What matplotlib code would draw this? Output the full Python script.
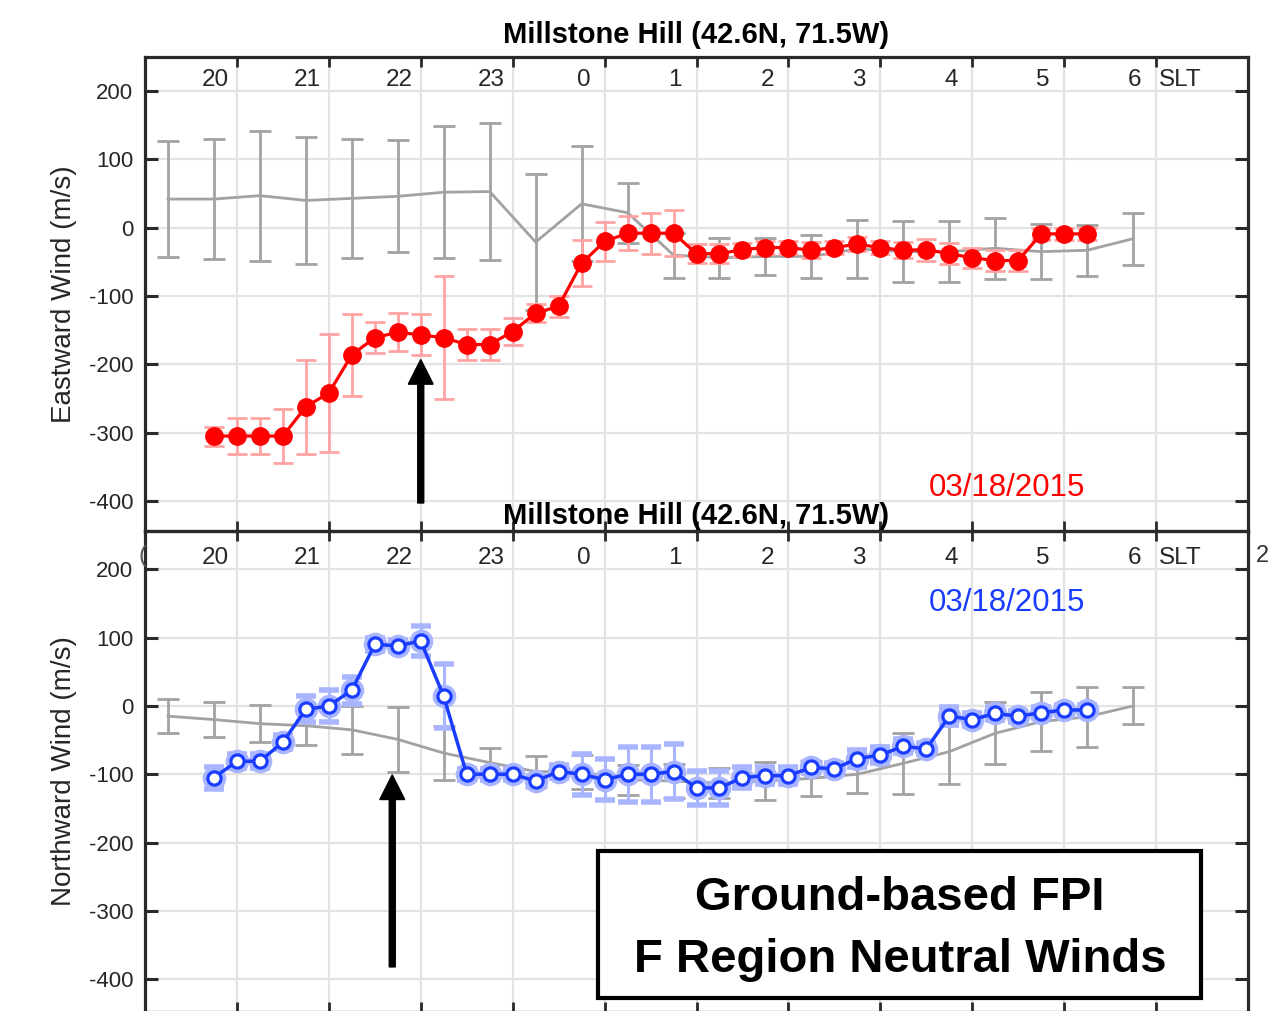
import matplotlib
matplotlib.use('Agg')
import matplotlib.pyplot as plt
from matplotlib import font_manager
from matplotlib.patches import Rectangle

names = {f.name for f in font_manager.fontManager.ttflist}
SANS = 'Liberation Sans' if 'Liberation Sans' in names else 'DejaVu Sans'
plt.rcParams['font.family'] = [SANS, 'DejaVu Sans']

# ---------------- data ----------------
hour_ticks = [20, 21, 22, 23, 24, 25, 26, 27, 28, 29, 30]
hour_labels = ['20', '21', '22', '23', '0', '1', '2', '3', '4', '5', '6']
ytick_vals = [-400, -300, -200, -100, 0, 100, 200]
ytick_labels = ['-400', '-300', '-200', '-100', '0', '100', '200']

# FPI measurement times (continuous hours, SLT)
t_fpi = [19.75, 20.0, 20.25, 20.5, 20.75, 21.0, 21.25, 21.5, 21.75, 22.0,
         22.25, 22.5, 22.75, 23.0, 23.25, 23.5, 23.75, 24.0, 24.25, 24.5,
         24.75, 25.0, 25.25, 25.5, 25.75, 26.0, 26.25, 26.5, 26.75, 27.0,
         27.25, 27.5, 27.75, 28.0, 28.25, 28.5, 28.75, 29.0, 29.25]
# reference (quiet-time) times
t_ref = [19.25, 19.75, 20.25, 20.75, 21.25, 21.75, 22.25, 22.75, 23.25, 23.75,
         24.25, 24.75, 25.25, 25.75, 26.25, 26.75, 27.25, 27.75, 28.25, 28.75,
         29.25, 29.75]

east = [-305, -305, -305, -305, -262, -242, -186, -161, -153, -157,
        -161, -171, -171, -152, -125, -115, -52, -20, -8, -8,
        -8, -38, -38, -32, -29, -29, -33, -29, -24, -29,
        -33, -32, -38, -44, -48, -48, -9, -9, -9]
east_err = [14, 26, 26, 40, 69, 87, 60, 23, 28, 30,
            90, 23, 23, 20, 13, 15, 34, 28, 25, 30,
            34, 14, 14, 10, 10, 10, 12, 10, 10, 10,
            12, 16, 15, 15, 15, 15, 9, 9, 9]
east_ref = [42, 42, 47, 40, 43, 46, 52, 53, -21, 35,
            22, -40, -44, -42, -42, -31, -35, -35, -30, -35,
            -33, -16]
east_ref_err = [85, 88, 95, 93, 87, 82, 97, 100, 100, 84,
                44, 33, 29, 27, 32, 43, 45, 45, 45, 40,
                37, 38]

north = [-105, -81, -81, -53, -5, 0, 23, 90, 88, 95,
         14, -100, -100, -100, -110, -96, -100, -108, -100, -100,
         -96, -120, -120, -105, -102, -102, -90, -92, -77, -72,
         -59, -63, -15, -20, -11, -15, -10, -6, -6]
north_err = [16, 10, 10, 10, 19, 23, 20, 9, 8, 22,
             47, 8, 8, 8, 8, 10, 30, 30, 40, 40,
             40, 25, 25, 15, 12, 13, 8, 8, 12, 12,
             10, 8, 13, 9, 10, 8, 8, 8, 8]
north_ref = [-15, -20, -26, -29, -35, -49, -69, -83, -96, -97,
             -108, -110, -113, -110, -106, -100, -84, -67, -40, -23,
             -16, 0]
north_ref_err = [25, 25, 27, 28, 35, 47, 40, 21, 23, 25,
                 22, 25, 22, 28, 26, 27, 45, 47, 45, 43,
                 44, 27]

title = 'Millstone Hill (42.6N, 71.5W)'
date_label = '03/18/2015'

# ---------------- figure ----------------
W, H = 1270, 1011
fig = plt.figure(figsize=(W / 100, H / 100), dpi=100)
fig.patch.set_facecolor('white')


def px_axes(left, top, right, bottom):
    return [left / W, 1 - bottom / H, (right - left) / W, (bottom - top) / H]


FRAME = '#2a2a2a'
TXT = '#262626'
GRID = '#e3e3e3'
GRAY = '#a2a2a2'
RED = '#ff0000'
RED_L = '#ffa3a3'
BLUE = '#1a3cff'
BLUE_L = '#a9b6ff'

ax_e = fig.add_axes(px_axes(145, 57, 1248, 531), zorder=1)
ax_n = fig.add_axes(px_axes(145, 531, 1248, 1012), zorder=2)
ax_n.set_facecolor('none')


def style(ax, ylim, label_pad):
    ax.set_xlim(19, 31)
    ax.set_ylim(*ylim)
    ax.set_yticks(ytick_vals, ytick_labels)
    ax.set_xticks(hour_ticks)
    ax.tick_params(axis='x', which='major', top=True, bottom=True, direction='in',
                   length=7, width=2, color=FRAME, labelbottom=False, labeltop=False)
    lab_pos = [h - 0.23 for h in hour_ticks] + [30.26]
    ax.set_xticks(lab_pos, hour_labels + ['SLT'], minor=True)
    ax.tick_params(axis='x', which='minor', top=False, bottom=False, direction='in',
                   length=0, labeltop=True, labelbottom=False, pad=label_pad,
                   labelsize=17.5, labelcolor=TXT)
    ax.tick_params(axis='y', which='major', left=True, right=True, direction='in',
                   length=9.5, width=2.2, color=FRAME, labelsize=16, labelcolor=TXT,
                   pad=8.5)
    ax.tick_params(axis='y', which='minor', left=False, right=False)
    ax.grid(True, which='major', color=GRID, lw=1.6)
    ax.set_axisbelow(True)
    for sp in ax.spines.values():
        sp.set_linewidth(2.3)
        sp.set_color(FRAME)


style(ax_e, (-444, 250), -24.8)
style(ax_n, (-448, 256), -27.7)

# ---- Eastward (top) ----
ax_e.errorbar(t_ref, east_ref, yerr=east_ref_err, color=GRAY, lw=2.0,
              elinewidth=2.0, capsize=8, capthick=2.0, zorder=2)
ax_e.errorbar(t_fpi, east, yerr=east_err, fmt='none', ecolor=RED_L,
              elinewidth=2.0, capsize=7.5, capthick=2.0, zorder=3)
ax_e.plot(t_fpi, east, '-o', color=RED, lw=2.3, ms=12.5, mfc=RED, mec=RED, zorder=4)
ax_e.set_ylabel('Eastward Wind (m/s)', fontsize=20, color=TXT, labelpad=8)
ax_e.set_title(title, fontsize=21, fontweight='bold', color='black', y=1.0, pad=10)
ax_e.text(28.38, -381, date_label, color=RED, fontsize=22.5, ha='center', va='center')
ax_e.arrow(22.0, -403, 0, 210, width=0.065, head_width=0.27, head_length=36,
           length_includes_head=True, color='black', zorder=6)

# ---- Northward (bottom) ----
ax_n.errorbar(t_ref, north_ref, yerr=north_ref_err, color=GRAY, lw=2.0,
              elinewidth=2.0, capsize=8, capthick=2.0, zorder=2)
ax_n.errorbar(t_fpi, north, yerr=north_err, fmt='o', color=BLUE_L, ms=13,
              mfc='none', mew=4, elinewidth=2.2, capsize=7.5, capthick=2.2, zorder=3)
ax_n.plot(t_fpi, north, '-o', color=BLUE, lw=2.5, ms=9.5, mfc='white',
          mec=BLUE, mew=2.3, zorder=4)
ax_n.set_ylabel('Northward Wind (m/s)', fontsize=20, color=TXT, labelpad=8)
ax_n.set_title(title, fontsize=21, fontweight='bold', color='black', y=1.0, pad=4.7)
ax_n.text(28.38, 151, date_label, color=BLUE, fontsize=22.5, ha='center', va='center')
ax_n.arrow(21.69, -382, 0, 281, width=0.065, head_width=0.27, head_length=36,
           length_includes_head=True, color='black', zorder=6)

# stray clipped glyphs visible at the panel junction
fig.text(143 / W, 1 - 556 / H, '(', fontsize=17, color='#555555', ha='center', va='center')
fig.text(1262 / W, 1 - 556 / H, '2', fontsize=17, color='#333333', ha='center', va='center')

# annotation box
fig.patches.append(Rectangle((598 / W, 1 - 998 / H), (1201 - 598) / W, (998 - 851) / H,
                             transform=fig.transFigure, fill=True, facecolor='white',
                             edgecolor='black', lw=3, zorder=10))
fig.text(900 / W, 1 - 898 / H, 'Ground-based FPI', fontsize=34, fontweight='bold',
         ha='center', va='center', zorder=11)
fig.text(900 / W, 1 - 960 / H, 'F Region Neutral Winds', fontsize=34, fontweight='bold',
         ha='center', va='center', zorder=11)

fig.savefig('out.png', dpi=100)
